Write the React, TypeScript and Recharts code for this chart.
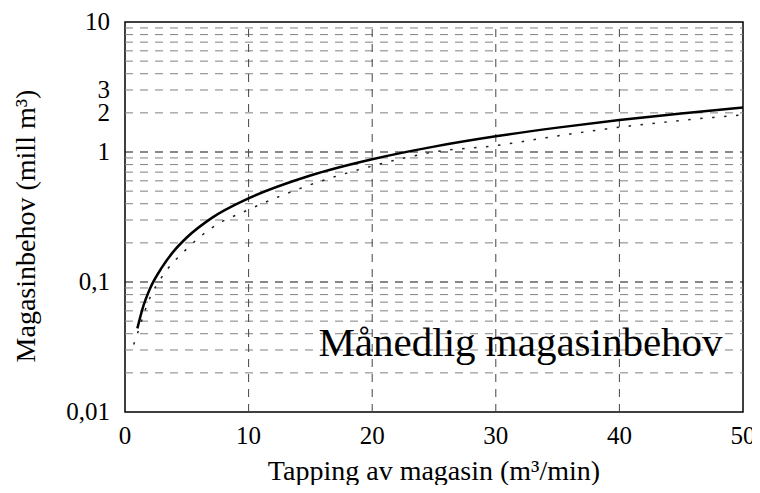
import { Line, LineChart, ReferenceArea, ReferenceLine, XAxis, YAxis, Label } from "recharts";

// tapping (m³/min) vs monthly storage need (mill m³)
const solidX = [1, 1.5, 2, 3, 4, 5, 7, 10, 15, 20, 25, 30, 35, 40, 45, 50];
const solidY = [0.044, 0.066, 0.088, 0.13, 0.175, 0.22, 0.31, 0.44, 0.66, 0.88, 1.1, 1.32, 1.54, 1.76, 1.98, 2.2];

const dottedX = [0.7, 1, 2, 3, 5, 7, 10, 15, 20, 25, 30, 35, 40, 45, 50];
const dottedY = [0.033, 0.04, 0.075, 0.11, 0.18, 0.26, 0.36, 0.56, 0.78, 1.0, 1.12, 1.33, 1.55, 1.75, 1.93];

const xTicks = [0, 10, 20, 30, 40, 50];
const xGrid = [10, 20, 30, 40];
const yTicks = [0.01, 0.1, 1, 2, 3, 10];
const yGrid = [
  0.02, 0.03, 0.04, 0.05, 0.06, 0.07, 0.08, 0.09,
  0.2, 0.3, 0.4, 0.5, 0.6, 0.7, 0.8, 0.9,
  2, 3, 4, 5, 6, 7, 8, 9,
];
const majorY = [0.1, 1];

const solid = solidX.map((x, i) => ({ x, y: solidY[i] }));
const dotted = dottedX.map((x, i) => ({ x, y: dottedY[i] }));

const FONT = "'Liberation Serif', 'Times New Roman', serif";
const fmt = (v: number) => String(v).replace(".", ",");

function XTick({ x, y, payload }: any) {
  return (
    <text x={x} y={y + 24} textAnchor="middle" fontFamily={FONT} fontSize={25} fill="#000">
      {payload.value}
    </text>
  );
}

function YTick({ x, y, payload }: any) {
  return (
    <text x={x} y={y + 8} textAnchor="end" fontFamily={FONT} fontSize={25} fill="#000">
      {fmt(payload.value)}
    </text>
  );
}

const XTitle = () => (
  <text x={434} y={480} textAnchor="middle" fontFamily={FONT} fontSize={28} fill="#000">
    Tapping av magasin (m³/min)
  </text>
);

const YTitle = () => (
  <text
    x={25}
    y={226}
    transform="rotate(-90 25 226)"
    textAnchor="middle"
    dominantBaseline="central"
    fontFamily={FONT}
    fontSize={28}
    fill="#000"
  >
    Magasinbehov (mill m³)
  </text>
);

export default function App() {
  return (
    <div style={{ width: 760, height: 493, margin: -8, background: "#fff", fontFamily: FONT }}>
      <LineChart width={760} height={493} margin={{ top: 22, right: 17, left: 0, bottom: 0 }}>
        {yGrid.map((v) => (
          <ReferenceLine key={"h" + v} y={v} stroke="#808080" strokeDasharray="8 7" />
        ))}
        {majorY.map((v) => (
          <ReferenceLine key={"m" + v} y={v} stroke="#111" strokeDasharray="8 7" />
        ))}
        {xGrid.map((v) => (
          <ReferenceLine key={"v" + v} x={v} stroke="#444" strokeDasharray="8 7" />
        ))}
        <XAxis
          type="number"
          dataKey="x"
          domain={[0, 50]}
          ticks={xTicks}
          interval={0}
          allowDataOverflow
          height={81}
          tickLine={false}
          axisLine={false}
          tick={<XTick />}
        >
          <Label content={<XTitle />} />
        </XAxis>
        <YAxis
          type="number"
          dataKey="y"
          scale="log"
          domain={[0.01, 10]}
          ticks={yTicks}
          interval={0}
          allowDataOverflow
          width={125}
          tickLine={false}
          axisLine={false}
          tickMargin={9}
          tick={<YTick />}
        >
          <Label content={<YTitle />} />
        </YAxis>
        <ReferenceArea x1={0} x2={50} y1={0.01} y2={10} fill="none" stroke="#000" strokeWidth={1.5} fillOpacity={0} />
        <Line
          data={dotted}
          dataKey="y"
          type="monotone"
          stroke="#222"
          strokeWidth={1.5}
          strokeDasharray="2.5 9.5"
          dot={false}
          isAnimationActive={false}
        />
        <Line
          data={solid}
          dataKey="y"
          type="monotone"
          stroke="#000"
          strokeWidth={2.5}
          dot={false}
          isAnimationActive={false}
        />
        <ReferenceArea x1={15} x2={49} y1={0.0218} y2={0.0557} fill="#fff" fillOpacity={1} stroke="none">
          <Label
            value="Månedlig magasinbehov"
            position="center"
            style={{ fill: "#000", fontSize: 41, fontFamily: FONT }}
          />
        </ReferenceArea>
      </LineChart>
    </div>
  );
}
